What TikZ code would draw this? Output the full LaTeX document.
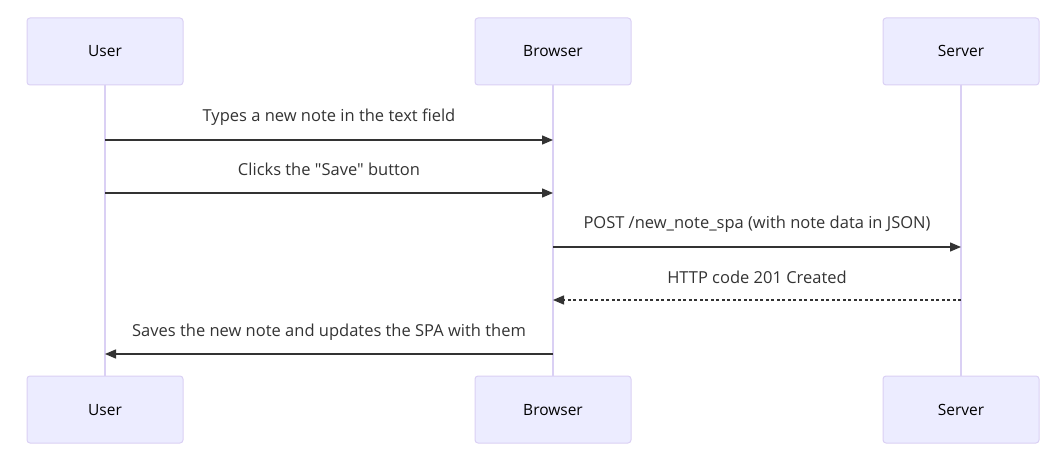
\documentclass[tikz,border=0pt]{standalone}
\usepackage{fontspec}
\setmainfont{Open Sans}[Ligatures=TeXOff]
\usepackage{xcolor}
\usetikzlibrary{arrows.meta, positioning}

\definecolor{actorfill}{HTML}{ECECFF}
\definecolor{actorline}{HTML}{DAD0F4}
\definecolor{msgline}{HTML}{333333}

\begin{document}
\begin{tikzpicture}[
  x=1pt, y=1pt,
  actor/.style={draw=actorline, fill=actorfill, rounded corners=3pt, line width=1pt,
                minimum width=156pt, minimum height=67pt, inner sep=0pt, outer sep=0pt,
                font=\fontsize{15.5}{18}\selectfont, text=black,
                text height=11pt, text depth=0pt},
  life/.style={actorline, line width=1.5pt},
  msg/.style={-{Triangle[length=11pt,width=9pt]}, msgline, line width=1.3pt},
  reply/.style={msg, dash pattern=on 3pt off 2.5pt},
  lbl/.style={font=\fontsize{16.5}{19}\selectfont, text=msgline, inner sep=0pt,
              text height=12pt, text depth=4pt},
]
  \useasboundingbox (0,0) rectangle (1061,-468);

  % actors, top row
  \node[actor] (usrtop) at (105,-51.5) {User};
  \node[actor, right=292pt of usrtop] (brwtop) {Browser};
  \node[actor, right=252pt of brwtop] (srvtop) {Server};
  % actors, bottom row
  \node[actor] (usrbot) at (105,-409.5) {User};
  \node[actor, right=292pt of usrbot] (brwbot) {Browser};
  \node[actor, right=252pt of brwbot] (srvbot) {Server};

  % lifelines
  \draw[life] (usrtop) -- (usrbot);
  \draw[life] (brwtop) -- (brwbot);
  \draw[life] (srvtop) -- (srvbot);

  % message points on the lifelines
  \foreach \n/\y in {1/140, 2/193, 3/247, 4/300, 5/354} {
    \coordinate (u\n) at (usrtop.south |- 0,-\y);
    \coordinate (b\n) at (brwtop.south |- 0,-\y);
    \coordinate (s\n) at (srvtop.south |- 0,-\y);
  }

  \draw[msg] (u1) -- node[lbl, above=14pt] {Types a new note in the text field} (b1);
  \draw[msg] (u2) -- node[lbl, above=13pt] {Clicks the "Save" button} (b2);
  \draw[msg] (b3) -- node[lbl, above=14pt] {POST /new\_note\_spa (with note data in JSON)} (s3);
  \draw[reply] (s4) -- node[lbl, above=12pt] {HTTP code 201 Created} (b4);
  \draw[msg] (b5) -- node[lbl, above=13pt] {Saves the new note and updates the SPA with them} (u5);
\end{tikzpicture}
\end{document}
